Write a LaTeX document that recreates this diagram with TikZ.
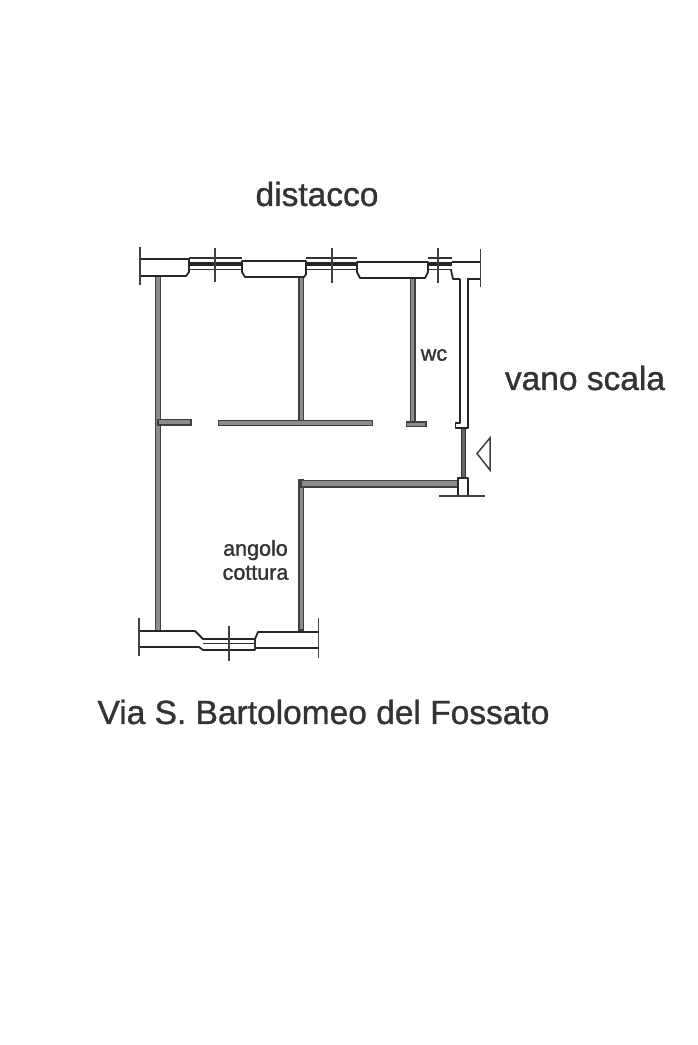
\documentclass[tikz,border=0pt]{standalone}
\usepackage{fontspec}
\setmainfont{Liberation Sans}
\newfontfamily\bigface[FakeBold=1]{Liberation Sans}
\newfontfamily\smallface[FakeBold=1.4]{Liberation Sans}
\usetikzlibrary{positioning}
\tikzset{
  wall/.style={draw=black!75,fill=black!45,line width=1.5pt},
  thinwall/.style={draw=black!80,fill=black!60,line width=1.3pt},
  outline/.style={draw=black!85,line width=1.8pt,line join=round},
  tick/.style={draw=black!75,line width=1.5pt},
  pane/.style={draw=black!80,line width=1.4pt},
  band/.style={draw=black!85,line width=4pt},
  biglab/.style={text=black!80,font=\bigface\fontsize{33.5}{35}\selectfont,inner sep=0pt},
  smalllab/.style={text=black!80,font=\smallface\fontsize{21.5}{24}\selectfont,inner sep=0pt,align=center}
}
\begin{document}
\begin{tikzpicture}[x=1pt,y=-1pt]
  \useasboundingbox (0,0) rectangle (697,1045);
  % walls
  \foreach \xa/\ya/\xb/\yb in {155.5/276/160.5/631, 299/277/303.5/421, 299/480/303.5/630,
    410.5/278/415/423, 406.5/422/426/426.5, 158/419.5/191/425, 218.5/420.5/372.5/425.5} {
    \draw[wall] (\xa,\ya) rectangle (\xb,\yb);
  }
  \draw[wall] (301,480.5) rectangle (458,487);
  \draw[thinwall] (461.5,428) rectangle (465.5,478);
  % piers of the top wall
  \draw[outline] (140,259) -- (189,259) -- (189,272) -- (186,276) -- (140,276);
  \draw[outline] (242,261) -- (306,261) -- (306,274) -- (304,277) -- (245,277) -- (242,272) -- cycle;
  \draw[outline] (357,262) -- (428,262) -- (428,272) -- (425,278) -- (360,278) -- (357,272) -- cycle;
  \draw[outline] (452,262) -- (481,262);
  \draw[outline] (451,270) -- (453,279) -- (460,279);
  \draw[outline] (467,279) -- (481,279);
  % stair wall, its foot and door corner
  \draw[outline] (460,279) -- (460,423) -- (455.5,423) -- (455.5,428) -- (468,428) -- (468,279);
  \draw[outline,fill=white] (458,496) -- (458,478) -- (468,478) -- (468,496);
  % windows
  \foreach \xa/\xb in {189/242, 306/357, 428/452} {
    \draw[pane] (\xa,258) -- (\xb,258);
    \draw[band] (\xa,264) -- (\xb,264);
    \draw[pane] (\xa,269.5) -- (\xb,269.5);
  }
  % bottom window and piers
  \draw[outline] (139,631) -- (195,631) -- (203,639) -- (255,639) -- (258,632) -- (318,632);
  \draw[outline] (139,647) -- (199,647) -- (203,650) -- (255,650) -- (255,648) -- (318,648);
  \draw[pane] (203,643.5) -- (255,643.5);
  \draw[pane] (255,639) -- (255,650);
  % ticks
  \foreach \x/\ya/\yb in {140/247/285, 215/248/282, 332/248/283, 438/248/283, 480.5/249/287,
    139/618/656, 229/626/661, 318.5/618/658} {
    \draw[tick] (\x,\ya) -- (\x,\yb);
  }
  \draw[tick] (439,496) -- (485,496);
  % entrance mark
  \draw[tick] (490,438) -- (477,453.5) -- (490,470) -- cycle;
  % labels
  \node[biglab] (distacco) at (317,194) {distacco};
  \node[biglab] (vanoscala) at (585,378) {vano scala};
  \node[biglab] (via) at (323.5,712) {Via S. Bartolomeo del Fossato};
  \node[smalllab] (wc) at (434,355) {wc};
  \node[smalllab] (cottura) at (255.5,560) {angolo\\cottura};
\end{tikzpicture}
\end{document}
